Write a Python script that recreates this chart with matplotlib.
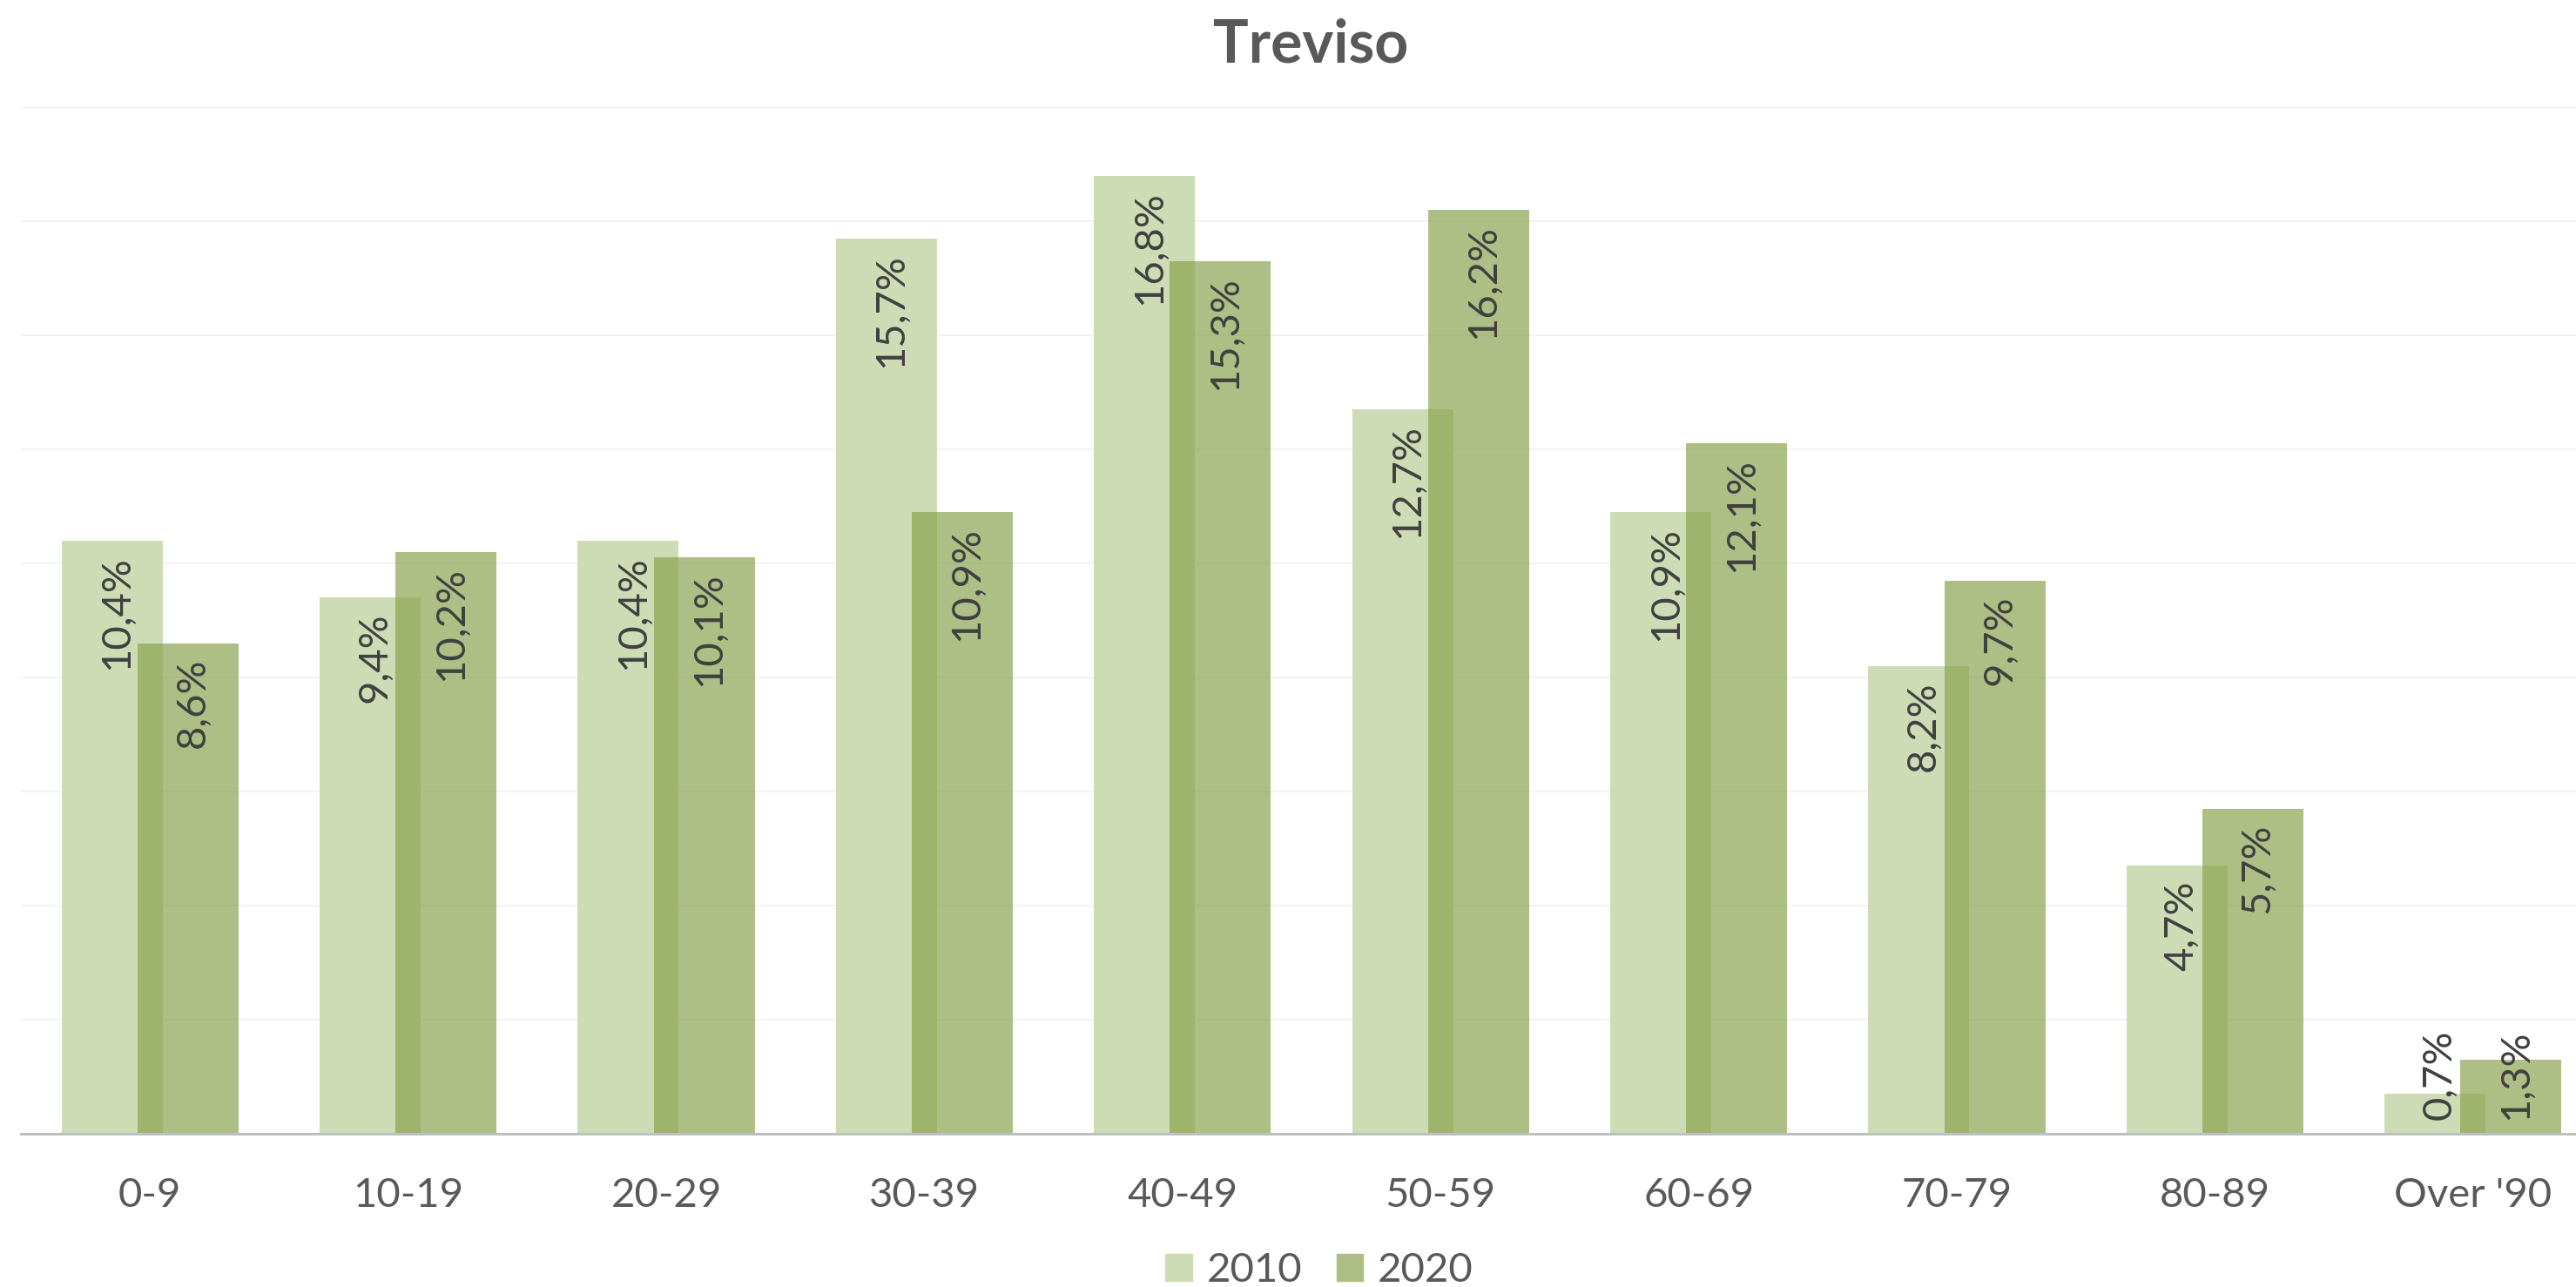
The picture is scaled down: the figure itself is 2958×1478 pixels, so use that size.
import numpy as np
import matplotlib.pyplot as plt

plt.rcParams['font.family'] = ['Lato', 'DejaVu Sans']

categories = ['0-9', '10-19', '20-29', '30-39', '40-49', '50-59', '60-69', '70-79', '80-89', "Over '90"]
v2010 = [10.4, 9.4, 10.4, 15.7, 16.8, 12.7, 10.9, 8.2, 4.7, 0.7]
v2020 = [8.6, 10.2, 10.1, 10.9, 15.3, 16.2, 12.1, 9.7, 5.7, 1.3]
years = ['2010', '2020']

W, H = 2958, 1478
fig = plt.figure(figsize=(W / 100, H / 100), dpi=100)
ax = fig.add_axes([24 / W, (H - 1302) / H, 2964 / W, 1179 / H])

x = np.arange(len(categories))
off = 0.147
bw = 0.391
ax.bar(x - off, v2010, bw, color='#CEDCB5', zorder=2, label=years[0])
ax.bar(x + off, v2020, bw, color='#89A34E', alpha=0.695, zorder=3, label=years[1])

def fmt(v):
    return f'{v:.1f}%'.replace('.', ',')

dx = 0.018  # rotated text: centre glyphs, not the bbox
for xs, vals in ((x - off, v2010), (x + off, v2020)):
    for xi, v in zip(xs, vals):
        if v > 2:
            ax.text(xi + dx, v - 0.26, fmt(v), rotation=90, ha='center', va='top',
                    fontsize=34, color='#404040', zorder=5)
        else:
            ax.text(xi + dx, 0.24, fmt(v), rotation=90, ha='center', va='bottom',
                    fontsize=34, color='#404040', zorder=5)

ax.set_xlim(-0.5, len(categories) - 0.5)
ax.set_ylim(0, 18)
ax.set_yticks(np.arange(0, 19, 2))
ax.yaxis.grid(True, color='#F2F2F2', linewidth=1.4, zorder=0)
ax.set_axisbelow(True)
ax.tick_params(axis='y', left=False, labelleft=False)
ax.set_xticks(x)
ax.set_xticklabels(categories, fontsize=34, color='#595959')
ax.tick_params(axis='x', length=0, pad=36)
for s in ['top', 'right', 'left']:
    ax.spines[s].set_visible(False)
ax.spines['bottom'].set_color('#BFBFBF')
ax.spines['bottom'].set_linewidth(2.2)
ax.spines['bottom'].set_zorder(6)

fig.text(1505 / W, 1 - 71 / H, 'Treviso', ha='center', va='baseline',
         fontsize=49, fontweight='bold', color='#595959')

h1 = plt.Rectangle((0, 0), 1, 1, color='#CEDCB5')
h2 = plt.Rectangle((0, 0), 1, 1, color='#ADBF84')
leg = fig.legend([h1, h2], years, loc='center', bbox_to_anchor=(1515 / W, 1 - 1459 / H),
                 ncol=2, frameon=False, fontsize=34, handlelength=0.64, handleheight=0.64,
                 handletextpad=0.36, columnspacing=0.83, borderpad=0, borderaxespad=0)
for t in leg.get_texts():
    t.set_color('#595959')

fig.savefig('out.png', dpi=100)
